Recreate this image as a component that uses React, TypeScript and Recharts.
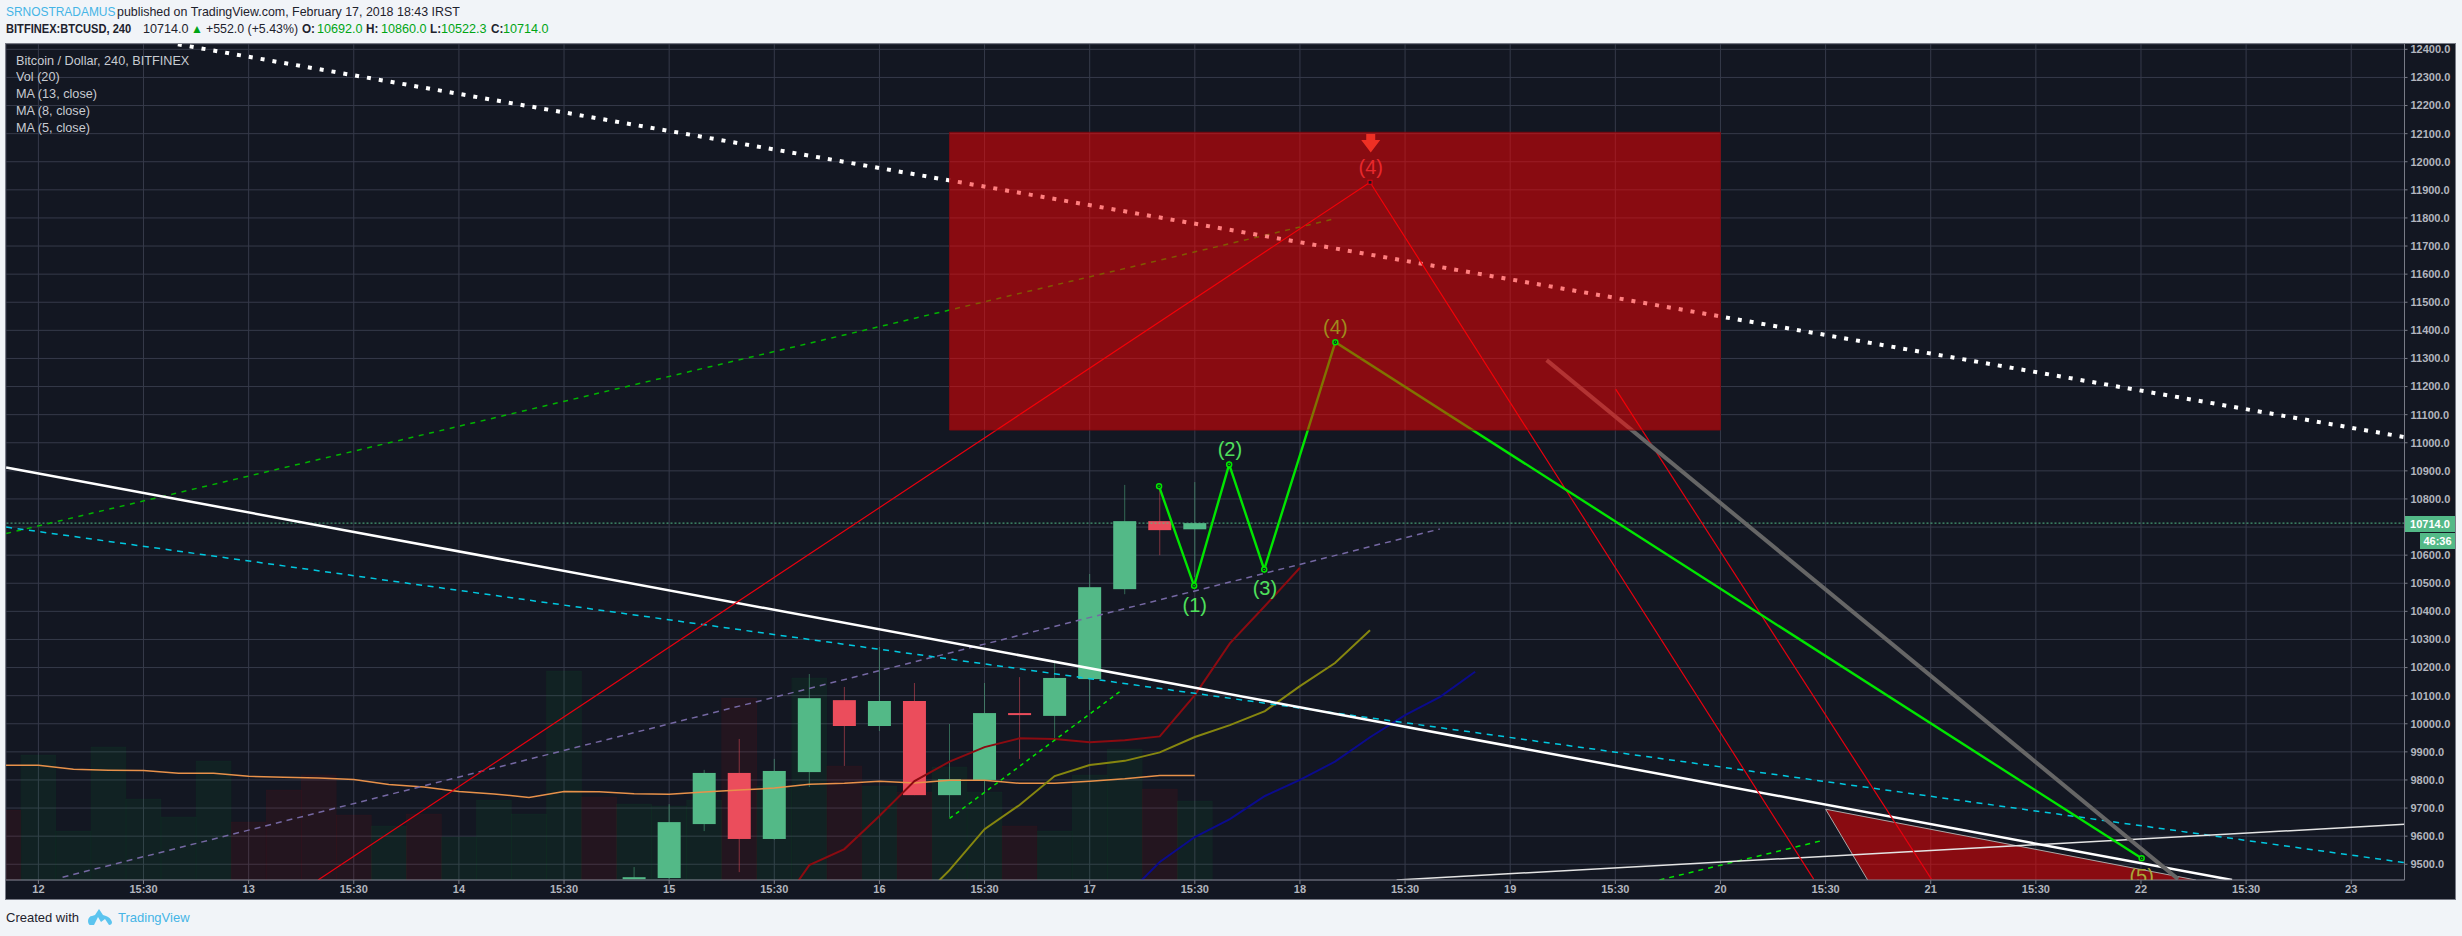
import React from "react";
import {
  Area,
  Bar,
  CartesianGrid,
  ComposedChart,
  Line,
  ReferenceArea,
  ReferenceDot,
  ReferenceLine,
  XAxis,
  YAxis,
} from "recharts";

// bar index 0 is the "12" tick, six 4h bars per day
const xTicks = [0, 3, 6, 9, 12, 15, 18, 21, 24, 27, 30, 33, 36, 39, 42, 45, 48, 51, 54, 57, 60, 63, 66];
const xLabels = ["12", "15:30", "13", "15:30", "14", "15:30", "15", "15:30", "16", "15:30", "17", "15:30", "18", "15:30", "19", "15:30", "20", "15:30", "21", "15:30", "22", "15:30", "23"];
const yTicks = [9500, 9600, 9700, 9800, 9900, 10000, 10100, 10200, 10300, 10400, 10500, 10600, 10700, 10800, 10900, 11000, 11100, 11200, 11300, 11400, 11500, 11600, 11700, 11800, 11900, 12000, 12100, 12200, 12300, 12400];

const firstBar = -1;
const volumes = [7000, 12500, 4900, 13300, 8100, 6300, 11900, 5800, 9000, 10500, 6500, 5400, 6600, 4300, 8000, 6600, 20900, 8300, 7600, 7400, 8000, 18200, 9400, 20200, 11400, 9400, 8800, 11300, 8800, 5400, 4900, 10500, 13100, 9100, 7900];
const volumeDown = [1, 0, 0, 0, 0, 0, 0, 1, 1, 1, 1, 0, 1, 0, 0, 0, 0, 1, 0, 0, 0, 1, 0, 0, 1, 0, 1, 0, 0, 1, 0, 0, 0, 1, 0];

const firstCandle = 17;
const opens = [9447, 9451, 9643, 9825, 9590, 9828, 10084, 9992, 10081, 9746, 9800, 10038, 10028, 10159, 10479, 10721, 10692];
const highs = [9490, 9714, 9836, 9946, 9875, 10177, 10131, 10273, 10145, 9999, 10145, 10166, 10227, 10533, 10850, 10846, 10860];
const lows = [9447, 9447, 9618, 9472, 9587, 9775, 9850, 9974, 9746, 9668, 9757, 9875, 9942, 10049, 10461, 10600, 10522];
const closes = [9454, 9650, 9825, 9590, 9832, 10091, 9992, 10081, 9746, 9803, 10038, 10031, 10163, 10486, 10721, 10689, 10714];

const lastPrice = 10714;

// moving averages: first bar, then values
const maOrange = [9852, 9852, 9838, 9835, 9834, 9824, 9824, 9813, 9810, 9807, 9802, 9784, 9775, 9759, 9750, 9738, 9759, 9758, 9751, 9749, 9757, 9764, 9771, 9785, 9788, 9795, 9789, 9799, 9799, 9788, 9788, 9795, 9804, 9816, 9816];
const maRed = [9319, 9497, 9554, 9672, 9796, 9865, 9917, 9948, 9946, 9934, 9941, 9955, 10102, 10286, 10419, 10555];
const maOlive = [9355, 9479, 9625, 9711, 9814, 9853, 9868, 9898, 9953, 9995, 10045, 10134, 10216, 10333];
const maBlue = [9383, 9508, 9597, 9661, 9743, 9800, 9865, 9952, 10031, 10096, 10185];

// drawings, as [bar, price]
const dottedResistance = [[3.98, 12418], [67.52, 11020]];
const whiteTrend = [[-0.92, 10912], [62.6, 9444]];
const cyanDash = [[-0.92, 10700], [67.52, 9506]];
const purpleDash = [[0.69, 9454], [39.99, 10693]];
const longGreenDash = [[-0.92, 10677], [36.99, 11797]];
const shortGreenDash = [[26, 9663], [30.92, 10120]];
const rightGreenDash = [[46.26, 9444], [50.89, 9584]];
const whiteRising = [[38.76, 9444], [67.52, 9642]];
const redWave = [[7.98, 9444], [38, 11927], [50.66, 9447]];
const redDrop = [[45.01, 11191], [54.02, 9447]];
const greenWave = [[31.98, 10845], [32.98, 10491], [33.98, 10923], [34.98, 10549], [37.01, 11358], [60.02, 9521]];
const greyDrop = [[43.04, 11294], [61.06, 9447]];
const wedgeTop = [[51, 9696], [61.57, 9444]];
const wedgeLeft = [[51, 9696], [52.2, 9444]];
const wedgeFill = [
  { x: 51, range: [9696, 9696] },
  { x: 52.2, range: [9444, 9668] },
  { x: 61.57, range: [9444, 9444] },
];

const bg = "#131722";
const axisColor = "#787b86";
const tickColor = "#b2b5be";
const upColor = "#53b987";
const downColor = "#eb4d5c";
const waveGreen = "#00e600";
const sans = "'Liberation Sans', Arial, sans-serif";
const bodyWidth = 23;

const rows = volumes.map((volume, n) => {
  const x = firstBar + n;
  const k = x - firstCandle;
  return {
    x,
    volume,
    down: volumeDown[n] === 1,
    open: opens[k],
    high: highs[k],
    low: lows[k],
    close: closes[k],
    range: k >= 0 ? [lows[k], highs[k]] : [9444, 9444],
  };
});

const pts = (list: number[][]) => list.map(([x, y]) => ({ x, y }));
const ma = (start: number, values: number[]) => values.map((y, n) => ({ x: start + n, y }));

const VolumeShape = (props: any) => {
  const { x, y, width, height, payload } = props;
  const fill = payload.down ? "rgba(255,0,0,0.07)" : "rgba(0,200,60,0.065)";
  return <rect x={x} y={y} width={width} height={height} fill={fill} stroke={fill} strokeWidth={0.5} />;
};

const CandleShape = (props: any) => {
  const { x, y, width, height, payload } = props;
  if (payload.open == null) return <g />;
  const { open, high, low, close } = payload;
  const unit = height / (high - low);
  const color = close >= open ? upColor : downColor;
  const top = y + (high - Math.max(open, close)) * unit;
  const tall = Math.max(Math.abs(open - close) * unit, 2);
  const mid = x + width / 2;
  return (
    <g>
      <line x1={mid} x2={mid} y1={y} y2={y + height} stroke={color} strokeOpacity={0.5} strokeWidth={1} />
      <rect x={mid - bodyWidth / 2} y={top} width={bodyWidth} height={tall} fill={color} />
    </g>
  );
};

const WaveDot = (props: any) => {
  const { cx, cy, key } = props;
  return (
    <g key={key}>
      <circle cx={cx} cy={cy} r={2.5} fill={bg} stroke={waveGreen} strokeWidth={1.5} />
      <circle cx={cx} cy={cy} r={0.8} fill={waveGreen} />
    </g>
  );
};

const PeakDot = (props: any) => {
  const { cx, cy, index, key } = props;
  if (index !== 1) return <g key={key} />;
  return <rect key={key} x={cx - 2} y={cy - 2} width={4} height={4} fill={bg} stroke="#e6000f" strokeWidth={1} />;
};

const SellArrow = (props: any) => {
  const { cx, cy } = props;
  return (
    <path
      d={`M${cx - 4.5} ${cy - 9}h9v6h5l-9.5 12.5l-9.5 -12.5h5z`}
      fill="#ee3024"
    />
  );
};

const CutLabel = (props: any) => {
  const { viewBox } = props;
  return (
    <svg x={viewBox.x - 20} y={viewBox.y - 16} width={40} height={20}>
      <text x={20} y={23} textAnchor="middle" fill="#a8a83a" fontSize={20} fontFamily={sans}>(5)</text>
    </svg>
  );
};

const waveLabel = (value: string, fill: string) => ({
  value,
  position: "center" as const,
  fill,
  fontSize: 20,
  fontFamily: sans,
});

// the reference text is set a little narrower than Arial, squeeze=horizontal scale
const absText = (left: number, top: number, color: string, bold = false, squeeze = 1): React.CSSProperties => ({
  position: "absolute",
  left,
  top,
  color,
  fontWeight: bold ? 700 : 400,
  fontFamily: sans,
  fontSize: 13,
  lineHeight: "16px",
  whiteSpace: "nowrap",
  transform: `scaleX(${squeeze})`,
  transformOrigin: "left center",
});

const legendLines = [
  "Bitcoin / Dollar, 240, BITFINEX",
  "Vol (20)",
  "MA (13, close)",
  "MA (8, close)",
  "MA (5, close)",
];
const legendTops = [53, 69, 86, 103, 120];

const quote = "#00a514";
const ink = "#1e222d";

export default function App() {
  return (
    <div style={{ position: "absolute", left: 0, top: 0, width: 2462, height: 936, background: "#f1f4f8", overflow: "hidden" }}>
      <span style={absText(6, 4, "#45b4e6", false, 0.918)}>SRNOSTRADAMUS</span>
      <span style={absText(117, 4, ink, false, 0.955)}>published on TradingView.com, February 17, 2018 18:43 IRST</span>

      <span style={absText(6, 21, ink, true, 0.854)}>BITFINEX:BTCUSD, 240</span>
      <span style={absText(143, 21, ink, false, 0.97)}>10714.0</span>
      <span style={{ ...absText(191, 21, quote), fontSize: 12 }}>▲</span>
      <span style={absText(206, 21, ink, false, 0.95)}>+552.0 (+5.43%)</span>
      <span style={absText(302, 21, ink, true, 0.9)}>O:</span>
      <span style={absText(317, 21, quote, false, 0.97)}>10692.0</span>
      <span style={absText(366, 21, ink, true, 0.9)}>H:</span>
      <span style={absText(381, 21, quote, false, 0.97)}>10860.0</span>
      <span style={absText(430, 21, ink, true, 0.9)}>L:</span>
      <span style={absText(441, 21, quote, false, 0.97)}>10522.3</span>
      <span style={absText(491, 21, ink, true, 0.9)}>C:</span>
      <span style={absText(503, 21, quote, false, 0.97)}>10714.0</span>

      <div style={{ position: "absolute", left: 5, top: 43, width: 2449, height: 855, background: bg, border: `1px solid ${axisColor}` }}>
        <ComposedChart
          width={2449}
          height={855}
          data={rows}
          margin={{ top: 0, right: 0, bottom: 0, left: 0 }}
        >
          <CartesianGrid stroke="#363a4a" strokeWidth={1} />
          <XAxis
            dataKey="x"
            type="number"
            domain={[-0.9244, 67.52]}
            allowDataOverflow
            ticks={xTicks}
            interval={0}
            height={19}
            tickFormatter={(v: number) => xLabels[v / 3]}
            stroke={axisColor}
            tickSize={4}
            tickMargin={1}
            tick={{ fill: tickColor, fontSize: 11, fontFamily: sans, fontWeight: 600 }}
          />
          <YAxis
            orientation="right"
            type="number"
            domain={[9444, 12419]}
            allowDataOverflow
            ticks={yTicks}
            interval={0}
            width={50.5}
            tickFormatter={(v: number) => v.toFixed(1)}
            stroke={axisColor}
            tickSize={3}
            tickMargin={3}
            tick={{ fill: tickColor, fontSize: 11, fontFamily: sans, fontWeight: 600, textAnchor: "start" }}
          />
          <XAxis xAxisId="vol" dataKey="x" type="number" domain={[-0.9244, 67.52]} allowDataOverflow hide />
          <YAxis yAxisId="vol" type="number" domain={[0, 83600]} hide />

          <Bar
            xAxisId="vol"
            yAxisId="vol"
            dataKey="volume"
            barSize={35}
            shape={VolumeShape}
            isAnimationActive={false}
          />
          <Bar
            dataKey="range"
            barSize={bodyWidth}
            shape={CandleShape}
            isAnimationActive={false}
          />

          <ReferenceLine y={lastPrice} stroke={upColor} strokeDasharray="2 2" />

          <Area
            data={wedgeFill}
            dataKey="range"
            type="linear"
            fill="#ff0000"
            fillOpacity={0.5}
            stroke="none"
            isAnimationActive={false}
          />
          <Line data={pts(wedgeTop)} dataKey="y" stroke="#a8a8a8" strokeWidth={1} dot={false} isAnimationActive={false} />
          <Line data={pts(wedgeLeft)} dataKey="y" stroke="#a8a8a8" strokeWidth={1} dot={false} isAnimationActive={false} />

          <Line data={ma(firstBar, maOrange)} dataKey="y" stroke="#e8914a" strokeWidth={1.5} dot={false} isAnimationActive={false} />
          <Line data={ma(21, maRed)} dataKey="y" stroke="#8b0b11" strokeWidth={2} dot={false} isAnimationActive={false} />
          <Line data={ma(25, maOlive)} dataKey="y" stroke="#86860f" strokeWidth={2} dot={false} isAnimationActive={false} />
          <Line data={ma(31, maBlue)} dataKey="y" stroke="#0b0b8c" strokeWidth={2} dot={false} isAnimationActive={false} />

          <Line data={pts(purpleDash)} dataKey="y" stroke="#7568a3" strokeWidth={1.5} strokeDasharray="6 5" dot={false} isAnimationActive={false} />
          <Line data={pts(longGreenDash)} dataKey="y" stroke="#00b300" strokeWidth={1.5} strokeDasharray="5 5.6" dot={false} isAnimationActive={false} />
          <Line data={pts(shortGreenDash)} dataKey="y" stroke={waveGreen} strokeWidth={1.5} strokeDasharray="4 4" dot={false} isAnimationActive={false} />
          <Line data={pts(rightGreenDash)} dataKey="y" stroke={waveGreen} strokeWidth={1.5} strokeDasharray="5 5" dot={false} isAnimationActive={false} />
          <Line data={pts(cyanDash)} dataKey="y" stroke="#00c8e0" strokeWidth={1.5} strokeDasharray="6 5.5" dot={false} isAnimationActive={false} />
          <Line data={pts(whiteRising)} dataKey="y" stroke="#e4e4e4" strokeWidth={1.5} dot={false} isAnimationActive={false} />
          <Line data={pts(whiteTrend)} dataKey="y" stroke="#ffffff" strokeWidth={2.5} dot={false} isAnimationActive={false} />
          <Line data={pts(dottedResistance)} dataKey="y" stroke="#ffffff" strokeWidth={4} strokeDasharray="4 8" dot={false} isAnimationActive={false} />
          <Line data={pts(redWave)} dataKey="y" stroke="#e6000f" strokeWidth={1.2} dot={PeakDot} isAnimationActive={false} />
          <Line data={pts(redDrop)} dataKey="y" stroke="#e6000f" strokeWidth={1.2} dot={false} isAnimationActive={false} />
          <Line data={pts(greyDrop)} dataKey="y" stroke="#666666" strokeWidth={4} dot={false} isAnimationActive={false} />
          <Line data={pts(greenWave)} dataKey="y" stroke={waveGreen} strokeWidth={2.4} dot={WaveDot} isAnimationActive={false} />

          <ReferenceArea
            x1={26}
            x2={48}
            y1={11045}
            y2={12105}
            fill="#ff0000"
            fillOpacity={0.5}
            stroke="#7d0a12"
            strokeOpacity={0.8}
            zIndex={450}
          />

          <ReferenceDot x={33} y={10422} r={0} stroke="none" fill="none" label={waveLabel("(1)", "#4fe05c")} />
          <ReferenceDot x={34} y={10978} r={0} stroke="none" fill="none" label={waveLabel("(2)", "#4fe05c")} />
          <ReferenceDot x={35} y={10483} r={0} stroke="none" fill="none" label={waveLabel("(3)", "#4fe05c")} />
          <ReferenceDot x={37.01} y={11413} r={0} stroke="none" fill="none" label={waveLabel("(4)", "#a08a1c")} />
          <ReferenceDot x={38.02} y={11982} r={0} stroke="none" fill="none" label={waveLabel("(4)", "#e8282c")} />
          <ReferenceDot x={60.02} y={9458} r={0} stroke="none" fill="none" label={{ content: CutLabel }} />
          <ReferenceDot x={38.02} y={12067} shape={SellArrow} />
        </ComposedChart>

        {legendLines.map((text, n) => (
          <span key={text} style={absText(10, legendTops[n] - 44, "#c8cbd2", false, 0.975)}>{text}</span>
        ))}

        <div style={{ position: "absolute", left: 2399, top: 472, width: 50, height: 16, background: upColor, color: "#fff", fontFamily: sans, fontSize: 11, fontWeight: 700, lineHeight: "16px", textAlign: "center" }}>10714.0</div>
        <div style={{ position: "absolute", left: 2414, top: 489, width: 35, height: 16, background: upColor, color: "#fff", fontFamily: sans, fontSize: 11, fontWeight: 700, lineHeight: "16px", textAlign: "center" }}>46:36</div>
      </div>

      <span style={absText(6, 910, ink)}>Created with</span>
      <svg style={{ position: "absolute", left: 88, top: 908 }} width={24} height={17} viewBox="0 0 24 17">
        <path d="M0 13c0-3 2-5 4-5l3-1 4-6 4 6 3 1c3 1 5 3 6 6 0 2-1 3-3 3l-4-6-4 3-3-5-4 8H2c-1 0-2-2-2-4z" fill="#5bc4ef" />
      </svg>
      <span style={absText(118, 910, "#45b4e6")}>TradingView</span>
    </div>
  );
}
